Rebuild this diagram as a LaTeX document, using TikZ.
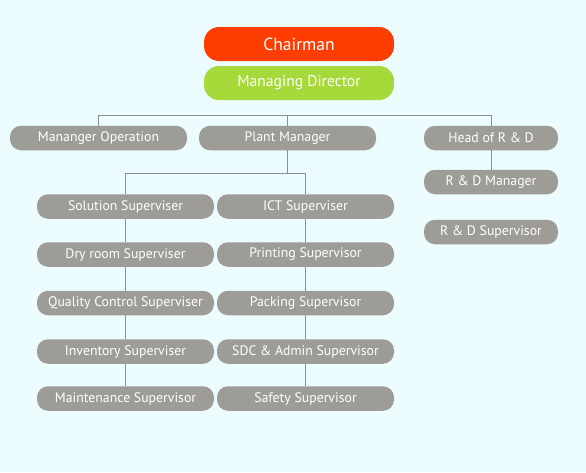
\documentclass[tikz,border=0pt]{standalone}
\usepackage{fontspec}
\setmainfont{PT Sans}
\definecolor{bgcyan}{HTML}{EDFCFE}
\definecolor{boxgray}{HTML}{9D9C97}
\definecolor{linegray}{HTML}{8F8F8F}
\definecolor{chairred}{HTML}{FF3D00}
\definecolor{mdgreen}{HTML}{A6D93A}

\begin{document}
\begin{tikzpicture}[x=1pt, y=-1pt,
  post/.style={rectangle, rounded corners=11pt, fill=boxgray, text=white,
    minimum width=177pt, minimum height=24.5pt, inner sep=0pt,
    font=\fontsize{13.8}{15}\selectfont},
  top/.style={rectangle, rounded corners=15pt, text=white, minimum width=190pt,
    minimum height=34pt, inner sep=0pt},
  link/.style={draw=linegray, line width=1pt}]
% fond
\fill[bgcyan] (0,0) rectangle (586,472);
% Direction
\node[top, fill=chairred, font=\fontsize{17.5}{19}\selectfont] (chair) at (299,44) {Chairman};
\node[top, fill=mdgreen, font=\fontsize{15.6}{17}\selectfont] (md) at (299,83) {Managing Director};
% Managers
\node[post] (mgrop) at (98.5,138) {Mananger Operation};
\node[post] (plant) at (287.5,138) {Plant Manager};
\node[post, minimum width=134pt] (headrd) at (491,138) {Head of R \& D};
\node[post, minimum width=134pt] (rdmgr) at (491,182) {R \& D Manager};
\node[post, minimum width=134pt] (rdsup) at (491,232) {R \& D Supervisor};
% Superviseurs
\node[post] (sol) at (125.5,206.5) {Solution Superviser};
\node[post] (dry) at (125.5,254.5) {Dry room Superviser};
\node[post] (qc) at (125.5,303) {Quality Control Superviser};
\node[post] (inv) at (125.5,351.5) {Inventory Superviser};
\node[post] (maint) at (125.5,398.5) {Maintenance Supervisor};
\node[post] (ict) at (305.5,206.5) {ICT Superviser};
\node[post] (print) at (305.5,254.5) {Printing Supervisor};
\node[post] (pack) at (305.5,303) {Packing Supervisor};
\node[post] (sdc) at (305.5,351.5) {SDC \& Admin Supervisor};
\node[post] (safety) at (305.5,398.5) {Safety Supervisor};
% Liaisons
\coordinate (bar) at (0,115);
\coordinate (split) at (0,173.5);
\draw[link] (mgrop.north) -- (mgrop.north |- bar) -- (headrd.north |- bar) -- (headrd.north);
\draw[link] (plant.north) -- (plant.north |- bar);
\draw[link] (plant.south) -- (plant.south |- split);
\draw[link] (sol.north) -- (sol.north |- split) -- (ict.north |- split) -- (ict.north);
\draw[link] (headrd) -- (rdmgr);
\draw[link] (sol) -- (dry);
\draw[link] (dry) -- (qc);
\draw[link] (qc) -- (inv);
\draw[link] (inv) -- (maint);
\draw[link] (ict) -- (print);
\draw[link] (print) -- (pack);
\draw[link] (pack) -- (sdc);
\draw[link] (sdc) -- (safety);
\end{tikzpicture}
\end{document}
